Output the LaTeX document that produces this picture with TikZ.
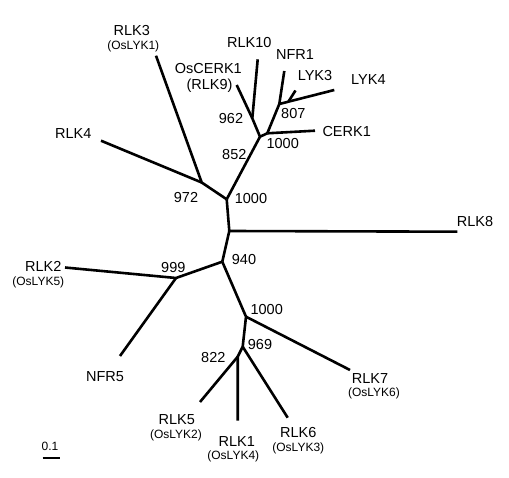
\documentclass[tikz,border=0pt]{standalone}
\usepackage{fontspec}
\setmainfont{Liberation Sans}
\begin{document}
\begin{tikzpicture}[x=1pt,y=-1pt,
  br/.style={line width=2.6pt},
  lab/.style={font=\fontsize{14.5}{16}\selectfont, inner sep=0pt},
  sublab/.style={font=\fontsize{12}{14}\selectfont, inner sep=0pt},
  bs/.style={font=\fontsize{14.5}{16}\selectfont, inner sep=0pt}]
\useasboundingbox (0,0) rectangle (509,478);
% internal nodes
\coordinate (A) at (226.7,199.3);
\coordinate (B) at (229.3,231);
\coordinate (C) at (222.3,261.7);
\coordinate (D) at (176,278);
\coordinate (E) at (246,316.7);
\coordinate (F) at (242.7,346.7);
\coordinate (G) at (237.7,356.7);
\coordinate (H) at (201.7,182.5);
\coordinate (I) at (260,136.7);
\coordinate (J) at (252.3,118.3);
\coordinate (K) at (267.3,133.3);
\coordinate (L) at (279.3,104);
\coordinate (M) at (288.5,101.5);
% leaves
\coordinate (lRLK10) at (257.7,59.3);
\coordinate (lOsCERK1) at (236.7,85);
\coordinate (lCERK1) at (315,130.7);
\coordinate (lNFR1) at (284.3,71);
\coordinate (lLYK4) at (334.3,90);
\coordinate (lLYK3) at (295.5,90.5);
\coordinate (lRLK3) at (156,55.7);
\coordinate (lRLK4) at (101,140.7);
\coordinate (lRLK8) at (457.3,231.7);
\coordinate (lRLK2) at (65,267.5);
\coordinate (lNFR5) at (120,356);
\coordinate (lRLK7) at (350,370);
\coordinate (lRLK6) at (287.7,417.7);
\coordinate (lRLK5) at (200,402);
\coordinate (lRLK1) at (237.7,420.7);
% branches
\draw[br] (lRLK10) -- (J) -- (I);
\draw[br] (lOsCERK1) -- (J);
\draw[br] (lNFR1) -- (L) -- (K);
\draw[br] (L) -- (lLYK4);
\draw[br] (M) -- (lLYK3);
\draw[br] (K) -- (lCERK1);
\draw[br] (K) -- (I) -- (A);
\draw[br] (lRLK3) -- (H) -- (A);
\draw[br] (lRLK4) -- (H);
\draw[br] (A) -- (B) -- (C);
\draw[br] (B) -- (lRLK8);
\draw[br] (C) -- (D) -- (lRLK2);
\draw[br] (D) -- (lNFR5);
\draw[br] (C) -- (E) -- (F) -- (G) -- (lRLK1);
\draw[br] (E) -- (lRLK7);
\draw[br] (F) -- (lRLK6);
\draw[br] (G) -- (lRLK5);
% leaf labels
\node[lab] (tRLK10) at (249.3,42.7) {RLK10};
\node[lab] (tNFR1) at (295,54.3) {NFR1};
\node[lab] (tOsCERK1) at (208.3,68.3) {OsCERK1};
\node[lab] (tRLK9) at (209.5,86) {(RLK9)};
\node[lab] (tLYK3) at (315,76) {LYK3};
\node[lab] (tLYK4) at (368.4,79.3) {LYK4};
\node[lab] (tCERK1) at (346.7,131.7) {CERK1};
\node[lab] (tRLK3) at (131.7,30.5) {RLK3};
\node[sublab] (tOsLYK1) at (133.3,46) {(OsLYK1)};
\node[lab] (tRLK4) at (73.3,134) {RLK4};
\node[lab] (tRLK8) at (475,221.7) {RLK8};
\node[lab] (tRLK2) at (43.3,266) {RLK2};
\node[sublab] (tOsLYK5) at (38.3,282.5) {(OsLYK5)};
\node[lab] (tNFR5) at (105,376.7) {NFR5};
\node[lab] (tRLK7) at (370,378.8) {RLK7};
\node[sublab] (tOsLYK6) at (374,393.5) {(OsLYK6)};
\node[lab] (tRLK6) at (298.3,433) {RLK6};
\node[sublab] (tOsLYK3) at (298.3,448.5) {(OsLYK3)};
\node[lab] (tRLK1) at (236.7,441.3) {RLK1};
\node[sublab] (tOsLYK4) at (233.3,456) {(OsLYK4)};
\node[lab] (tRLK5) at (176.7,420) {RLK5};
\node[sublab] (tOsLYK2) at (176,435.5) {(OsLYK2)};
% bootstrap values
\node[bs] (b962) at (231,118.3) {962};
\node[bs] (b807) at (293.3,114) {807};
\node[bs] (b1000a) at (282.7,143.3) {1000};
\node[bs] (b852) at (234.3,154.3) {852};
\node[bs] (b972) at (186,197.3) {972};
\node[bs] (b1000b) at (251,198.3) {1000};
\node[bs] (b940) at (244,259.3) {940};
\node[bs] (b999) at (173.3,267.7) {999};
\node[bs] (b1000c) at (266.7,309.3) {1000};
\node[bs] (b969) at (260,344.3) {969};
\node[bs] (b822) at (213.3,357.7) {822};
% scale bar
\node[sublab] (scale) at (50,446.7) {0.1};
\coordinate (sb1) at (42.7,457.7);
\coordinate (sb2) at (60,457.7);
\draw[line width=2pt] (sb1) -- (sb2);
\end{tikzpicture}
\end{document}
